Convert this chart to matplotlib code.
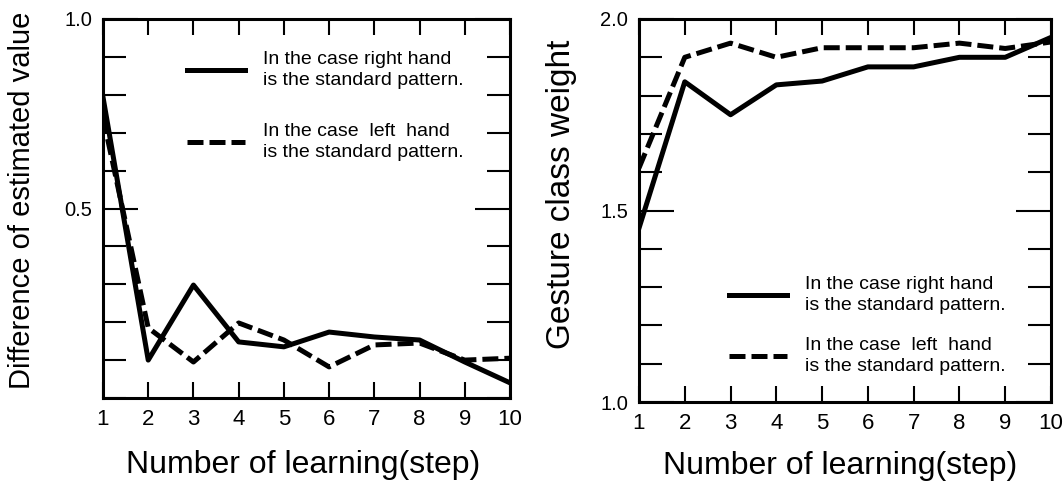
import matplotlib.pyplot as plt
from matplotlib.ticker import MultipleLocator

plt.rcParams['font.family'] = ['Liberation Sans', 'DejaVu Sans']

steps = [1, 2, 3, 4, 5, 6, 7, 8, 9, 10]

# left panel: difference of estimated value
diff_right = [0.794, 0.10, 0.298, 0.148, 0.135, 0.174, 0.161, 0.153, 0.095, 0.04]
diff_left = [0.74, 0.185, 0.095, 0.198, 0.153, 0.082, 0.14, 0.145, 0.10, 0.105]

# right panel: gesture class weight
weight_right = [1.454, 1.836, 1.75, 1.828, 1.838, 1.875, 1.875, 1.90, 1.90, 1.952]
weight_left = [1.611, 1.90, 1.937, 1.90, 1.925, 1.925, 1.925, 1.937, 1.923, 1.94]

label_right = "In the case right hand\nis the standard pattern."
label_left = "In the case  left  hand\nis the standard pattern."

fig = plt.figure(figsize=(10.63, 4.83), dpi=100)
ax1 = fig.add_axes([103 / 1063, 1 - 398 / 483, 407 / 1063, 379 / 483])
ax2 = fig.add_axes([639 / 1063, 1 - 402 / 483, 412 / 1063, 383 / 483])

lw = 3.6
dash = (0, (3.2, 1.2))


def style(ax, ymin, ymax, majors, labels):
    ax.set_xlim(1, 10)
    ax.set_ylim(ymin, ymax)
    ax.set_xticks(steps)
    ax.set_yticks(majors)
    ax.set_yticklabels(labels)
    ax.yaxis.set_minor_locator(MultipleLocator(0.1))
    for s in ax.spines.values():
        s.set_linewidth(2.2)
    ax.tick_params(which='both', direction='in', top=True, right=True, width=1.5)
    ax.tick_params(axis='x', length=11.5, labelsize=16, pad=8)
    ax.tick_params(axis='y', which='major', length=25, labelsize=14.5, pad=8)
    ax.tick_params(axis='y', which='minor', length=16.5)
    ax.set_xlabel("Number of learning(step)", fontsize=23)
    ax.xaxis.label.set_va('center')


def add_legend(ax, anchor, spacing):
    leg = ax.legend(loc='upper left', bbox_to_anchor=anchor, frameon=False,
                    fontsize=14, handlelength=2.95, handletextpad=0.93,
                    labelspacing=spacing, borderpad=0, borderaxespad=0)
    for t in leg.get_texts():
        t.set_linespacing(1.3)


# left chart
ax1.plot(steps, diff_right, color='black', lw=lw, label=label_right)
ax1.plot(steps, diff_left, color='black', lw=lw, linestyle=dash, label=label_left)
style(ax1, 0, 1.0, [0.5, 1.0], ['0.5', '1.0'])
ax1.set_ylabel("Difference of estimated value", fontsize=21)
ax1.yaxis.label.set_va('center')
ax1.yaxis.set_label_coords(-0.199, 0.522)
ax1.xaxis.set_label_coords(0.491, -0.176)
add_legend(ax1, (0.207, 0.915), 1.75)

# right chart
ax2.plot(steps, weight_right, color='black', lw=lw, label=label_right)
ax2.plot(steps, weight_left, color='black', lw=lw, linestyle=dash, label=label_left)
style(ax2, 1.0, 2.0, [1.0, 1.5, 2.0], ['1.0', '1.5', '2.0'])
ax2.set_ylabel("Gesture class weight", fontsize=24)
ax2.yaxis.label.set_va('center')
ax2.yaxis.set_label_coords(-0.187, 0.543)
ax2.xaxis.set_label_coords(0.488, -0.167)
add_legend(ax2, (0.219, 0.329), 1.2)

fig.savefig("out.png", dpi=100)
